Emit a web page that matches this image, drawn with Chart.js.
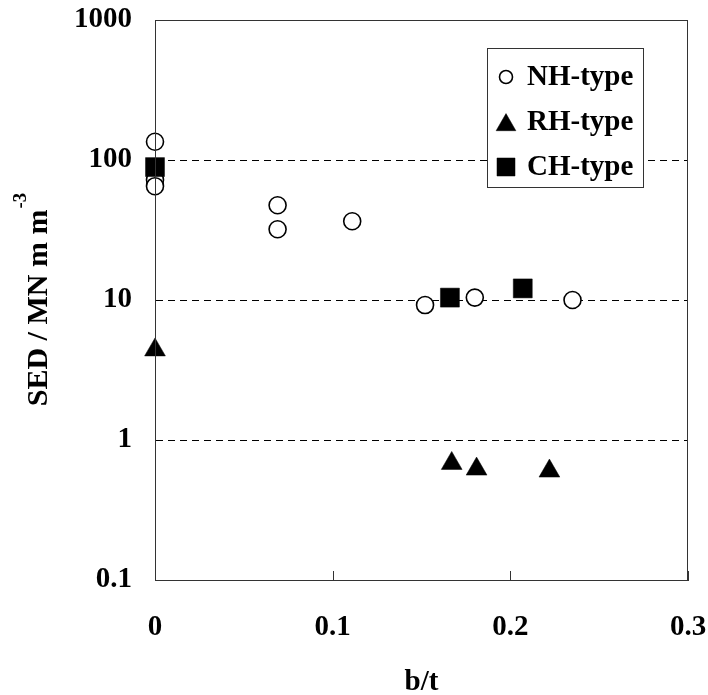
<!DOCTYPE html>
<html><head><meta charset="utf-8">
<script src="https://cdn.jsdelivr.net/npm/chart.js@4.4.0/dist/chart.umd.min.js"></script>
<style>html,body{margin:0;padding:0;background:#fff}canvas{display:block}</style>
</head><body>
<canvas id="c" width="708" height="695"></canvas>
<script>
// ---- data ----
const seriesNames = ['NH-type', 'RH-type', 'CH-type'];
const nhX = [0, 0, 0, 0.069, 0.069, 0.111, 0.152, 0.180, 0.235];
const nhY = [135, 72, 65, 47.5, 32, 36.5, 9.2, 10.4, 10.0];
const rhX = [0, 0.167, 0.181, 0.222];
const rhY = [4.4, 0.68, 0.62, 0.60];
const chX = [0, 0.166, 0.207];
const chY = [89, 10.4, 12.1];
const xTicks = [0, 0.1, 0.2, 0.3];
const yTicks = [0.1, 1, 10, 100, 1000];
const xTitle = 'b/t';
const yTitleMain = 'SED / MN m m';
const yTitleSup = '-3';

const FONT = '"Liberation Serif", "Times New Roman", serif';
const pts = (xs, ys) => xs.map((x, i) => ({x: x, y: ys[i]}));

const overlay = {
  id: 'overlay',
  afterDraw(chart) {
    const ctx = chart.ctx, a = chart.chartArea, xs = chart.scales.x;
    ctx.save();
    // frame
    ctx.strokeStyle = '#333'; ctx.lineWidth = 1;
    ctx.strokeRect(a.left + 0.5, a.top + 0.5, a.right - a.left - 1, a.bottom - a.top);
    // inward x tick marks
    xs.ticks.forEach(t => {
      const px = Math.round(xs.getPixelForValue(t.value)) + 0.5;
      ctx.beginPath(); ctx.moveTo(px, a.bottom); ctx.lineTo(px, a.bottom - 9); ctx.stroke();
    });
    // y title with superscript
    ctx.fillStyle = '#000';
    ctx.textBaseline = 'alphabetic';
    ctx.font = 'bold 30px ' + FONT;
    const w1 = ctx.measureText(yTitleMain).width;
    ctx.font = 'bold 19px ' + FONT;
    const w2 = ctx.measureText(yTitleSup).width;
    ctx.translate(47, (a.top + a.bottom) / 2);
    ctx.rotate(-Math.PI / 2);
    const sx = -(w1 + w2) / 2;
    ctx.font = 'bold 30px ' + FONT;
    ctx.textAlign = 'left';
    ctx.fillText(yTitleMain, sx, 0);
    ctx.font = 'bold 19px ' + FONT;
    ctx.fillText(yTitleSup, sx + w1 + 1, -21);
    ctx.restore();

    // legend
    ctx.save();
    const lx = 487, ly = 48, lw = 156, lh = 139;
    ctx.fillStyle = '#fff'; ctx.fillRect(lx, ly, lw, lh);
    ctx.strokeStyle = '#333'; ctx.lineWidth = 1;
    ctx.strokeRect(lx + 0.5, ly + 0.5, lw, lh);
    ctx.font = 'bold 29px ' + FONT;
    ctx.textBaseline = 'middle'; ctx.textAlign = 'left';
    chart.data.datasets.forEach((ds, i) => {
      const cy = ly + 29 + i * 45;
      const r = ds.pointStyle === 'circle' ? 6.5 : ds.pointRadius * 0.95;
      ctx.fillStyle = ds.pointBackgroundColor;
      ctx.strokeStyle = ds.pointBorderColor;
      ctx.lineWidth = ds.pointBorderWidth;
      Chart.helpers.drawPoint(ctx, {pointStyle: ds.pointStyle, radius: r, rotation: 0, borderWidth: ds.pointBorderWidth}, 506, ds.pointStyle === 'triangle' ? cy + 3 : cy);
      ctx.fillStyle = '#000';
      ctx.fillText(ds.label, 527, cy + 1);
    });
    ctx.restore();
  }
};

new Chart(document.getElementById('c'), {
  type: 'scatter',
  data: {
    datasets: [
      {label: seriesNames[0], data: pts(nhX, nhY), pointStyle: 'circle', pointRadius: 8.5, pointHoverRadius: 8.5,
       pointBackgroundColor: '#fff', pointBorderColor: '#000', pointBorderWidth: 1.6, order: 3, clip: false},
      {label: seriesNames[1], data: pts(rhX, rhY), pointStyle: 'triangle', pointRadius: 12, pointHoverRadius: 12,
       pointBackgroundColor: '#000', pointBorderColor: '#000', pointBorderWidth: 0.5, order: 2, clip: false},
      {label: seriesNames[2], data: pts(chX, chY), pointStyle: 'rect', pointRadius: 13.4, pointHoverRadius: 13.4,
       pointBackgroundColor: '#000', pointBorderColor: '#000', pointBorderWidth: 0.5, order: 1, clip: false}
    ]
  },
  options: {
    responsive: false,
    animation: false,
    devicePixelRatio: 1,
    layout: {padding: {top: 20, right: 20, left: 0, bottom: 0}},
    plugins: {legend: {display: false}, tooltip: {enabled: false}},
    scales: {
      x: {
        type: 'linear', min: 0, max: 0.3,
        afterBuildTicks: s => { s.ticks = xTicks.map(v => ({value: v})); },
        afterFit: s => { s.height = 115; s.paddingLeft = 0; s.paddingRight = 0; },
        ticks: {callback: v => String(v), font: {family: FONT, size: 29, weight: 'bold'}, color: '#000', padding: 30, maxRotation: 0},
        grid: {display: true, drawOnChartArea: false, drawTicks: false},
        border: {display: true, color: '#333', width: 1},
        title: {display: true, text: xTitle, font: {family: FONT, size: 29, weight: 'bold'}, color: '#000', padding: {top: 0, bottom: -5}}
      },
      y: {
        type: 'logarithmic', min: 0.1, max: 1000,
        afterBuildTicks: s => { s.ticks = yTicks.map(v => ({value: v})); },
        afterFit: s => { s.width = 155; s.paddingTop = 0; s.paddingBottom = 0; },
        ticks: {callback: v => String(v), font: {family: FONT, size: 29, weight: 'bold'}, color: '#000', padding: 23},
        grid: {drawTicks: false, lineWidth: 1,
               color: c => (c.tick && (c.tick.value === 0.1 || c.tick.value === 1000)) ? 'rgba(0,0,0,0)' : '#000'},
        border: {display: true, color: '#333', width: 1, dash: [7, 5]}
      }
    }
  },
  plugins: [overlay]
});
</script>
</body></html>
